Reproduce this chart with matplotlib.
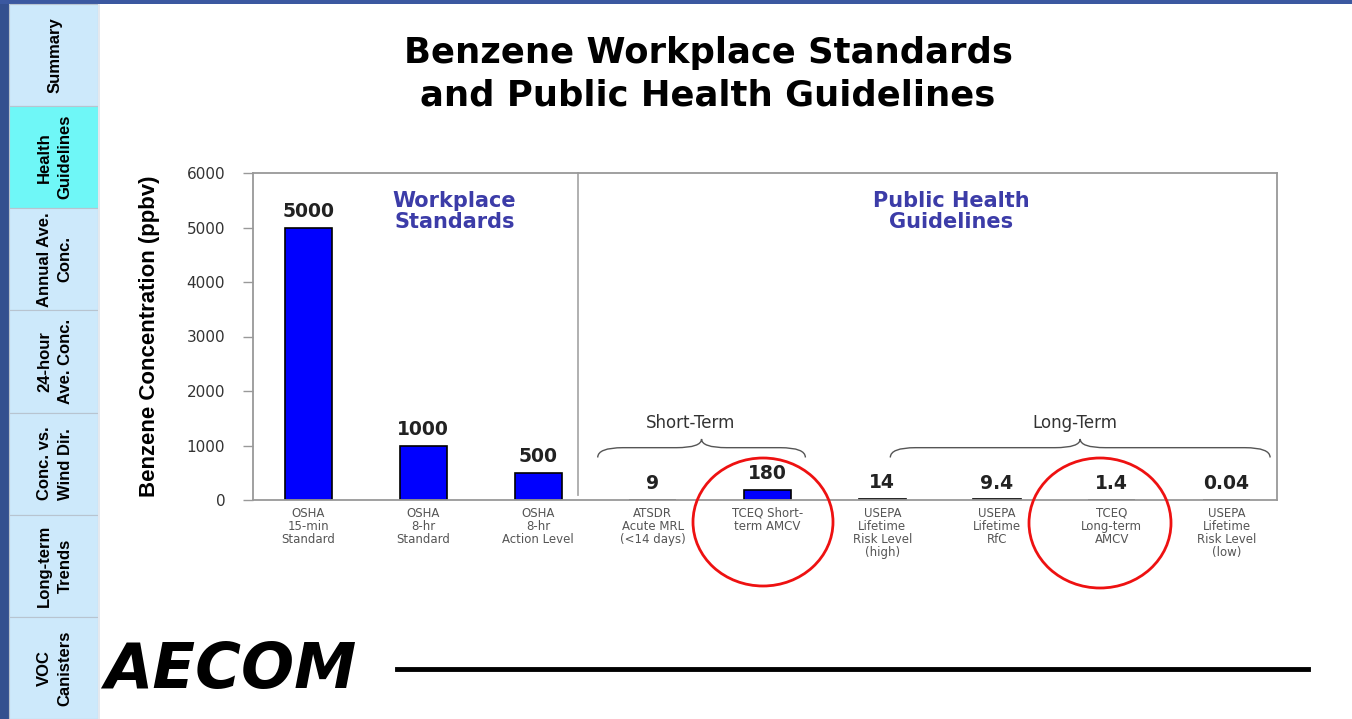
import numpy as np
import matplotlib
matplotlib.use("Agg")
import matplotlib.pyplot as plt
from matplotlib.patches import Rectangle, Ellipse, PathPatch
from matplotlib.path import Path

# slide was stretched sideways: wide face for horizontal text, narrow for rotated
WIDE = ['DejaVu Sans']
NARROW = ['Liberation Sans Narrow', 'Liberation Sans', 'DejaVu Sans']
plt.rcParams['font.family'] = WIDE

# data
categories = ["OSHA\n15-min\nStandard", "OSHA\n8-hr\nStandard", "OSHA\n8-hr\nAction Level",
              "ATSDR\nAcute MRL\n(<14 days)", "TCEQ Short-\nterm AMCV",
              "USEPA\nLifetime\nRisk Level\n(high)", "USEPA\nLifetime\nRfC",
              "TCEQ\nLong-term\nAMCV", "USEPA\nLifetime\nRisk Level\n(low)"]
values = [5000, 1000, 500, 9, 180, 14, 9.4, 1.4, 0.04]
value_labels = ["5000", "1000", "500", "9", "180", "14", "9.4", "1.4", "0.04"]
yticks = [0, 1000, 2000, 3000, 4000, 5000, 6000]
tabs = ["Summary", "Health\nGuidelines", "Annual Ave.\nConc.", "24-hour\nAve. Conc.",
        "Conc. vs.\nWind Dir.", "Long-term\nTrends", "VOC\nCanisters"]
active_tab = 1

W, H = 1352, 719
fig = plt.figure(figsize=(W / 100, H / 100), dpi=100)
fig.patch.set_facecolor("white")


def fx(px):
    return px / W


def fy(py):
    return 1 - py / H


# sidebar and top bar
fig.patches.append(Rectangle((0, 0), fx(9), 1, transform=fig.transFigure,
                             facecolor="#34508f", edgecolor="none"))
fig.patches.append(Rectangle((0, fy(4)), 1, 4 / H, transform=fig.transFigure,
                             facecolor="#3b58a0", edgecolor="none"))
tab_h = (H - 4) / len(tabs)
for i, t in enumerate(tabs):
    top = 4 + i * tab_h
    col = "#6ff7f7" if i == active_tab else "#cde9fb"
    fig.patches.append(Rectangle((fx(9), fy(top + tab_h)), fx(89), tab_h / H,
                                 transform=fig.transFigure, facecolor=col,
                                 edgecolor="#b8c4d0", linewidth=0.8))
    fig.text(fx(55), fy(top + tab_h / 2), t, rotation=90, ha="center", va="center",
             fontsize=12, fontweight="bold", linespacing=1.45, color="black", family=NARROW)
fig.patches.append(Rectangle((fx(98), 0), fx(2), fy(4), transform=fig.transFigure,
                             facecolor="#e4e8ee", edgecolor="none"))

# title
fig.text(fx(708), fy(74), "Benzene Workplace Standards\nand Public Health Guidelines",
         ha="center", va="center", fontsize=25.5, fontweight="bold", linespacing=1.3)

# axes
left, right, top, bottom = 253, 1277, 173, 500
ax = fig.add_axes([fx(left), fy(bottom), fx(right - left), (bottom - top) / H])
x = np.arange(len(categories))
ax.bar(x, values, width=0.41, color="#0000ff", edgecolor="black", linewidth=1.2)
ax.set_xlim(-0.484, 8.44)
ax.set_ylim(0, 6000)
ax.set_yticks(yticks)
ax.set_yticklabels([str(v) for v in yticks], fontsize=11, color="#333333")
ax.set_xticks(x)
ax.set_xticklabels(categories, fontsize=8.5, color="#555555", linespacing=1.0)
ax.tick_params(axis="x", length=0, pad=5)
ax.tick_params(axis="y", length=7, width=1, color="#999999", pad=13)
for s in ax.spines.values():
    s.set_color("#999999")
    s.set_linewidth(1.3)
ax.set_ylabel("Benzene Concentration (ppbv)", fontsize=16, fontweight="bold",
              labelpad=19, family=NARROW)

for xi, v, lab in zip(x, values, value_labels):
    ax.annotate(lab, (xi, v), xytext=(0, 5), textcoords="offset points",
                ha="center", va="bottom", fontsize=13.5, fontweight="bold", color="#222222")

# divider between groups
ax.plot([2.35, 2.35], [0.015, 1.0], transform=ax.get_xaxis_transform(),
        color="#aaaaaa", linewidth=1.3, clip_on=False)

ax.text(1.27, 5300, "Workplace\nStandards", ha="center", va="center", fontsize=15,
        fontweight="bold", color="#3c3ca8", linespacing=1.05)
ax.text(5.6, 5300, "Public Health\nGuidelines", ha="center", va="center", fontsize=15,
        fontweight="bold", color="#3c3ca8", linespacing=1.05)


def brace(ax, x0, x1, y_end, y_flat, y_tip, r=0.22):
    xm = (x0 + x1) / 2
    verts = [(x0, y_end), (x0, y_flat), (x0 + r, y_flat),
             (xm - r, y_flat), (xm, y_flat), (xm, y_tip),
             (xm, y_flat), (xm + r, y_flat),
             (x1 - r, y_flat), (x1, y_flat), (x1, y_end)]
    codes = [Path.MOVETO, Path.CURVE3, Path.CURVE3,
             Path.LINETO, Path.CURVE3, Path.CURVE3,
             Path.CURVE3, Path.CURVE3,
             Path.LINETO, Path.CURVE3, Path.CURVE3]
    ax.add_patch(PathPatch(Path(verts, codes), facecolor="none", edgecolor="#555555",
                           linewidth=1.0, clip_on=False))


brace(ax, 2.52, 4.33, 780, 960, 1120)
brace(ax, 5.07, 8.38, 780, 960, 1120)
ax.text(3.33, 1420, "Short-Term", ha="center", va="center", fontsize=12, color="#333333")
ax.text(6.68, 1420, "Long-Term", ha="center", va="center", fontsize=12, color="#333333")

# red circles
for cx, cy, w, h in [(763, 522, 140, 128), (1100, 523, 142, 130)]:
    fig.patches.append(Ellipse((fx(cx), fy(cy)), w / W, h / H, transform=fig.transFigure,
                               facecolor="none", edgecolor="#ee1111", linewidth=2))

# logo and rule
fig.text(fx(104), fy(671), "AECOM", ha="left", va="center", fontsize=45,
         fontweight="bold", style="italic", color="black")
fig.add_artist(plt.Line2D([fx(397), fx(1308)], [fy(669), fy(669)], transform=fig.transFigure,
                          color="black", linewidth=3.5))

fig.savefig("out.png", dpi=100)
